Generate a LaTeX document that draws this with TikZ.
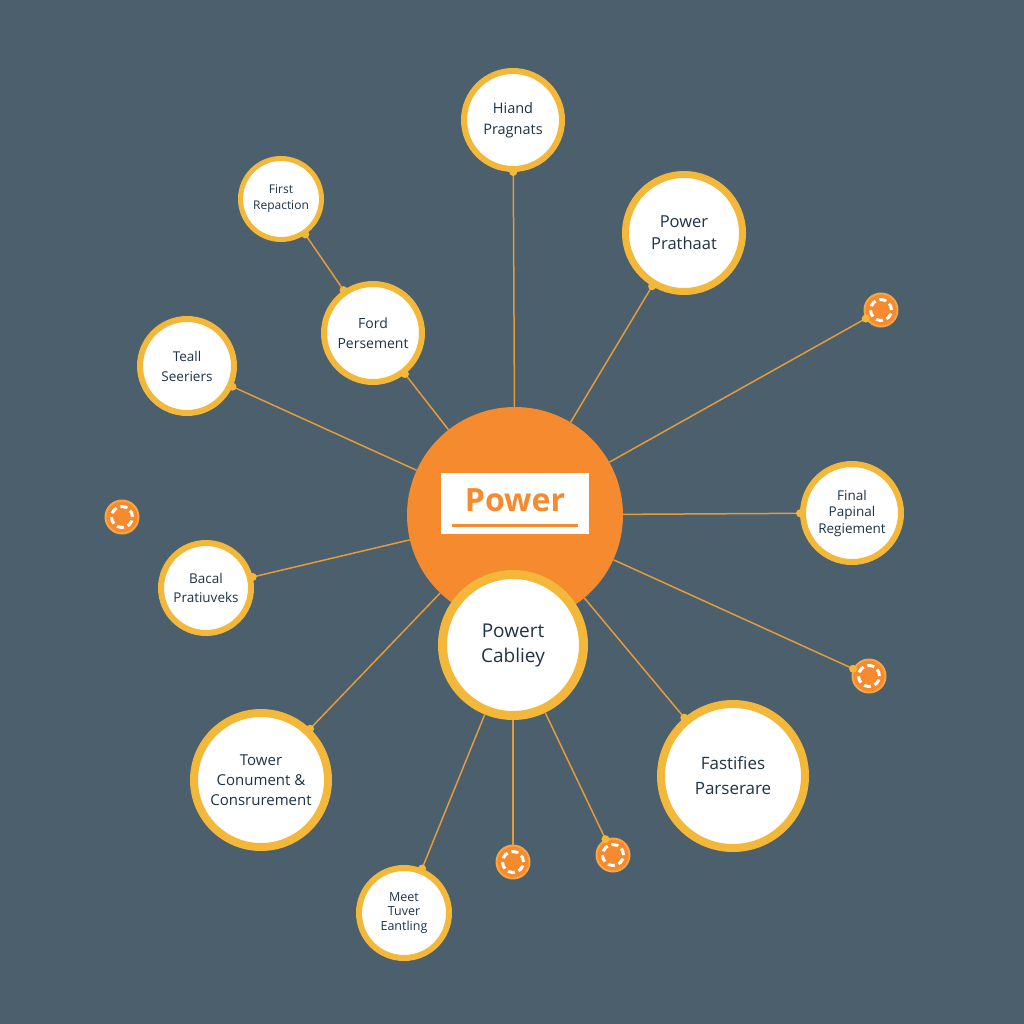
\documentclass[tikz,border=0pt]{standalone}
\usepackage{fontspec}
\setmainfont{Open Sans}
\usetikzlibrary{calc}
\definecolor{bgc}{HTML}{4B5F6C}
\definecolor{orc}{HTML}{F58A2F}
\definecolor{ringc}{HTML}{F3B83A}
\definecolor{linec}{HTML}{E39B3C}
\definecolor{txtc}{HTML}{1E3347}
\definecolor{ringo}{HTML}{F9A545}
\begin{document}
\begin{tikzpicture}[x=1pt,y=-1pt,
  bub/.style={circle, draw=ringc, fill=white, inner sep=0pt, align=center, text=txtc},
  conn/.style={draw=linec, line width=1.5pt},
  dot/.style={circle, fill=ringc, inner sep=0pt, minimum size=8pt},
  orb/.style={circle, fill=orc, draw=ringo, line width=2pt, minimum size=33pt, inner sep=0pt,
    path picture={\draw[white, line width=3pt, dash pattern=on 7pt off 4pt]
      (path picture bounding box.center) circle (10.5pt);}},
]
\useasboundingbox (0,0) rectangle (1024,1024);
\fill[bgc] (0,0) rectangle (1024,1024);

% central hub
\node[circle, fill=orc, minimum size=216pt, inner sep=0pt] (power) at (515,515) {};
\node[fill=white, minimum width=148pt, minimum height=61pt, inner sep=0pt] (pbox) at (515,503.5) {};
\node[text=orc, font=\fontsize{32}{36}\selectfont\bfseries, anchor=base, inner sep=0pt] (ptext) at (515,511) {Power};
\draw[orc, line width=3pt] ($(pbox.south west)+(11,-9)$) -- ($(pbox.south east)+(-11,-9)$);

\node[bub, minimum size=141pt, line width=9pt, font=\fontsize{19}{25}\selectfont] (powert) at (513,645) {Powert\\Cabliey};

% satellites
\node[bub, minimum size=98pt, line width=6pt, font=\fontsize{14.5}{21}\selectfont] (hiand) at (513,120) {Hiand\\Pragnats};
\node[bub, minimum size=117pt, line width=7pt, font=\fontsize{16.5}{22}\selectfont] (prath) at (684,233) {Power\\Prathaat};
\node[bub, minimum size=81pt, line width=5pt, font=\fontsize{12}{16}\selectfont] (first) at (281,199) {First\\Repaction};
\node[bub, minimum size=98pt, line width=6pt, font=\fontsize{14}{20}\selectfont] (ford) at (373,333) {Ford\\Persement};
\node[bub, minimum size=94pt, line width=6pt, font=\fontsize{13.5}{20}\selectfont] (teall) at (187,366) {Teall\\Seeriers};
\node[bub, minimum size=98pt, line width=6pt, font=\fontsize{13.5}{16.5}\selectfont] (final) at (852,513) {Final\\Papinal\\Regiement};
\node[bub, minimum size=90pt, line width=6pt, font=\fontsize{13.5}{19}\selectfont] (bacal) at (206,588) {Bacal\\Pratiuveks};
\node[bub, minimum size=134pt, line width=8pt, font=\fontsize{15}{20}\selectfont] (tower) at (261,780) {Tower\\Conument \&\\Consrurement};
\node[bub, minimum size=90pt, line width=6pt, font=\fontsize{12.5}{14.5}\selectfont] (meet) at (404,913) {Meet\\Tuver\\Eantling};
\node[bub, minimum size=144pt, line width=8pt, font=\fontsize{17}{25}\selectfont] (fast) at (733,776) {Fastifies\\Parserare};

% small orange markers
\node[orb] (o1) at (881,310) {};
\node[orb] (o2) at (122,517) {};
\node[orb] (o3) at (869,676) {};
\node[orb] (o4) at (513,862) {};
\node[orb] (o5) at (613,855) {};

% connectors
\draw[conn] (hiand) -- node[dot,pos=0]{} (power);
\draw[conn] (prath) -- node[dot,pos=0]{} (power);
\draw[conn] (first) -- node[dot,pos=0]{} node[dot,pos=1]{} (ford);
\draw[conn] (ford) -- node[dot,pos=0]{} (power);
\draw[conn] (teall) -- node[dot,pos=0]{} (power);
\draw[conn] (o1) -- node[dot,pos=0]{} (power);
\draw[conn] (final) -- node[dot,pos=0]{} (power);
\draw[conn] (bacal) -- node[dot,pos=0]{} (power);
\draw[conn] (tower) -- node[dot,pos=0]{} (power);
\draw[conn] (fast) -- node[dot,pos=0]{} (power);
\draw[conn] (o3) -- node[dot,pos=0]{} (power);
\draw[conn] (meet) -- node[dot,pos=0]{} (powert);
\draw[conn] (o4) -- (powert);
\draw[conn] (o5) -- node[dot,pos=0]{} (powert);
\end{tikzpicture}
\end{document}
